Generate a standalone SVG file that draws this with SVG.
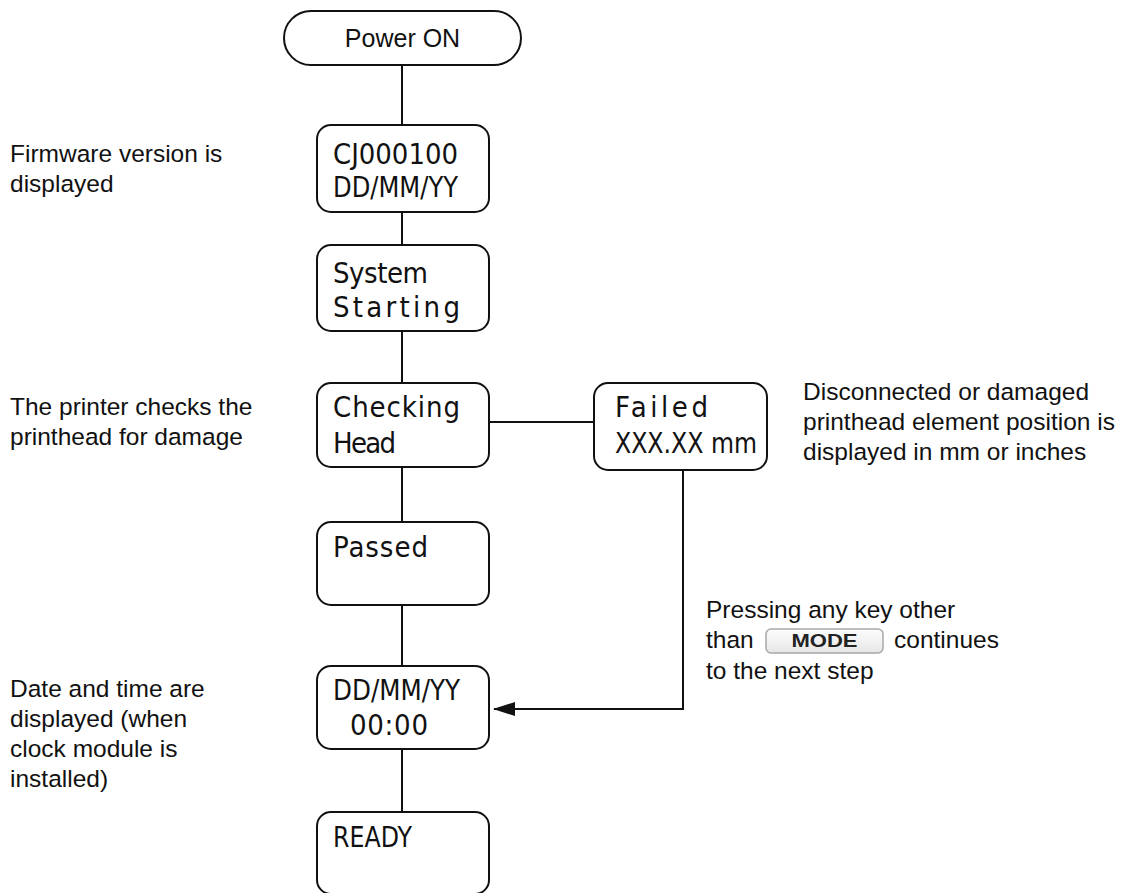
<svg xmlns="http://www.w3.org/2000/svg" width="1142" height="893" viewBox="0 0 1142 893">
  <defs>
    <style>
      .box { fill: #fff; stroke: #111; stroke-width: 2; }
      .ln { fill: none; stroke: #111; stroke-width: 2; }
      .lcd { font-family: "Liberation Sans Narrow", "DejaVu Sans Condensed", "Liberation Sans", sans-serif; font-size: 29px; fill: #111; }
      .note { font-family: "Liberation Sans", Arial, sans-serif; font-size: 24.5px; fill: #111; }
      .title { font-family: "Liberation Sans", Arial, sans-serif; font-size: 25px; fill: #111; }
      .key { font-family: "Liberation Sans", Arial, sans-serif; font-size: 18px; font-weight: bold; fill: #222; }
    </style>
    <marker id="arr" markerWidth="22" markerHeight="14" refX="21" refY="7" orient="auto" markerUnits="userSpaceOnUse">
      <path d="M0,0 L22,7 L0,14 Z" fill="#111"/>
    </marker>
    <linearGradient id="keyg" x1="0" y1="0" x2="0" y2="1">
      <stop offset="0" stop-color="#fdfdfd"/>
      <stop offset="1" stop-color="#e6e6e6"/>
    </linearGradient>
  </defs>

  <g id="connectors">
    <line class="ln" x1="402" y1="65" x2="402" y2="125"/>
    <line class="ln" x1="402" y1="212" x2="402" y2="245"/>
    <line class="ln" x1="402" y1="331" x2="402" y2="383"/>
    <line class="ln" x1="489" y1="422" x2="594" y2="422"/>
    <line class="ln" x1="402" y1="467" x2="402" y2="522"/>
    <line class="ln" x1="402" y1="605" x2="402" y2="666"/>
    <line class="ln" x1="402" y1="749" x2="402" y2="812"/>
    <polyline class="ln" points="683,470 683,709 494,709" marker-end="url(#arr)"/>
  </g>

  <g id="power-on">
    <rect class="box" x="284" y="11" width="237" height="54" rx="27" ry="27"/>
    <text class="title" x="402.5" y="47" text-anchor="middle">Power ON</text>
  </g>

  <g id="firmware">
    <rect class="box" x="317" y="125" width="172" height="87" rx="14" ry="14"/>
    <text class="lcd" x="333" y="164" textLength="125" lengthAdjust="spacingAndGlyphs">CJ000100</text>
    <text class="lcd" x="333" y="197" textLength="125" lengthAdjust="spacingAndGlyphs">DD/MM/YY</text>
  </g>

  <g id="system-starting">
    <rect class="box" x="317" y="245" width="172" height="86" rx="14" ry="14"/>
    <text class="lcd" x="333" y="283" textLength="95" lengthAdjust="spacing">System</text>
    <text class="lcd" x="333" y="317" textLength="127" lengthAdjust="spacing">Starting</text>
  </g>

  <g id="checking-head">
    <rect class="box" x="317" y="383" width="172" height="84" rx="14" ry="14"/>
    <text class="lcd" x="333" y="417" textLength="127" lengthAdjust="spacing">Checking</text>
    <text class="lcd" x="333" y="453" textLength="63" lengthAdjust="spacing">Head</text>
  </g>

  <g id="failed">
    <rect class="box" x="594" y="383" width="173" height="87" rx="14" ry="14"/>
    <text class="lcd" x="615" y="417" textLength="93" lengthAdjust="spacing">Failed</text>
    <text class="lcd" x="615" y="453" textLength="142" lengthAdjust="spacingAndGlyphs">XXX.XX mm</text>
  </g>

  <g id="passed">
    <rect class="box" x="317" y="522" width="172" height="83" rx="14" ry="14"/>
    <text class="lcd" x="333" y="557" textLength="95" lengthAdjust="spacing">Passed</text>
  </g>

  <g id="date-time">
    <rect class="box" x="317" y="666" width="172" height="83" rx="14" ry="14"/>
    <text class="lcd" x="333" y="700" textLength="127" lengthAdjust="spacingAndGlyphs">DD/MM/YY</text>
    <text class="lcd" x="350" y="735" textLength="78" lengthAdjust="spacing">00:00</text>
  </g>

  <g id="ready">
    <rect class="box" x="317" y="812" width="172" height="82" rx="14" ry="14"/>
    <text class="lcd" x="333" y="847" textLength="79" lengthAdjust="spacingAndGlyphs">READY</text>
  </g>

  <g id="note-firmware">
    <text class="note" x="10" y="162">Firmware version is</text>
    <text class="note" x="10" y="192">displayed</text>
  </g>

  <g id="note-check">
    <text class="note" x="10" y="415">The printer checks the</text>
    <text class="note" x="10" y="445">printhead for damage</text>
  </g>

  <g id="note-failed">
    <text class="note" x="803" y="400">Disconnected or damaged</text>
    <text class="note" x="803" y="430">printhead element position is</text>
    <text class="note" x="803" y="460">displayed in mm or inches</text>
  </g>

  <g id="note-key">
    <text class="note" x="706" y="618">Pressing any key other</text>
    <text class="note" x="706" y="648">than</text>
    <rect x="766" y="629" width="117" height="24" rx="5" ry="5" fill="url(#keyg)" stroke="#a8a8a8" stroke-width="1.5"/>
    <text class="key" x="824.5" y="647" text-anchor="middle" textLength="66" lengthAdjust="spacingAndGlyphs">MODE</text>
    <text class="note" x="894" y="648">continues</text>
    <text class="note" x="706" y="679">to the next step</text>
  </g>

  <g id="note-date">
    <text class="note" x="10" y="697">Date and time are</text>
    <text class="note" x="10" y="727">displayed (when</text>
    <text class="note" x="10" y="757">clock module is</text>
    <text class="note" x="10" y="787">installed)</text>
  </g>
</svg>
